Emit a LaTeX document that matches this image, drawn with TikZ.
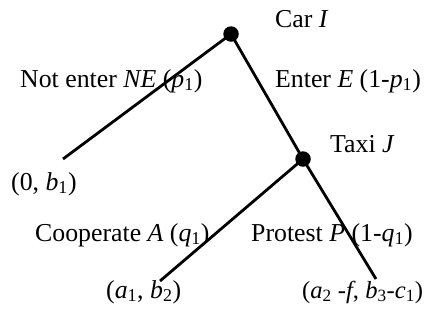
\documentclass[tikz,border=0pt]{standalone}
\usepackage{fontspec}
\setmainfont{Liberation Serif}
\usetikzlibrary{positioning}
\begin{document}
\begin{tikzpicture}[
  x=1pt, y=-1pt,
  decision/.style={circle, fill=black, inner sep=0pt, minimum size=15.5pt},
  branch/.style={line width=2.8pt, black},
  lbl/.style={anchor=base west, inner sep=0pt, font=\fontsize{25.8}{30}\selectfont}
]
\useasboundingbox (0,0) rectangle (427,325);

% Decision points and end points
\node[decision] (car) at (231,34) {};
\node[decision] (taxi) at (303,159) {};
\coordinate (ne) at (63,159);
\coordinate (coop) at (160,281);
\coordinate (prot) at (376,279);

% Labels
\node[lbl] (carlbl) at (275,27) {Car \textit{I}};
\node[lbl] (nelbl) at (20,87) {Not enter \textit{NE} (\textit{p}\textsubscript{1})};
\node[lbl] (elbl) at (275,87) {Enter \textit{E} (1-\textit{p}\textsubscript{1})};
\node[lbl] (taxilbl) at (330,152) {Taxi \textit{J}};
\node[lbl] (nepay) at (11,190) {(0, \textit{b}\textsubscript{1})};
\node[lbl] (alb) at (35,241) {Cooperate \textit{A} (\textit{q}\textsubscript{1})};
\node[lbl] (plbl) at (251,241) {Protest \textit{P} (1-\textit{q}\textsubscript{1})};
\node[lbl] (apay) at (106,298) {(\textit{a}\textsubscript{1}, \textit{b}\textsubscript{2})};
\node[lbl, font=\fontsize{24.6}{30}\selectfont] (ppay) at (302,298) {(\textit{a}\textsubscript{2} -\textit{f}, \textit{b}\textsubscript{3}-\textit{c}\textsubscript{1})};

% Branches
\draw[branch] (car.center) -- (ne);
\draw[branch] (car.center) -- (taxi.center);
\draw[branch] (taxi.center) -- (coop);
\draw[branch] (taxi.center) -- (prot);
\end{tikzpicture}
\end{document}
